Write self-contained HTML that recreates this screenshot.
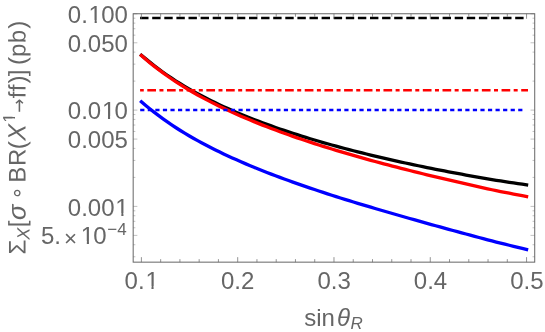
<!DOCTYPE html>
<html><head><meta charset="utf-8"><title>plot</title>
<style>html,body{margin:0;padding:0;background:#fff;}body{width:545px;height:332px;position:relative;overflow:hidden;}</style>
</head><body>
<svg width="545" height="332" viewBox="0 0 545 332" style="position:absolute;left:0;top:0">
<rect width="545" height="332" fill="#fff"/>
<g fill="none" stroke-width="3.3" stroke-linecap="square" stroke-linejoin="round">
<path d="M141.40,55.21 L145.73,58.87 L150.06,62.40 L154.38,65.79 L158.71,69.06 L163.04,72.21 L167.37,75.26 L171.69,78.19 L176.02,81.03 L180.35,83.76 L184.68,86.40 L189.00,88.94 L193.33,91.38 L197.66,93.75 L201.99,96.06 L206.31,98.29 L210.64,100.47 L214.97,102.59 L219.30,104.65 L223.63,106.66 L227.95,108.62 L232.28,110.54 L236.61,112.41 L240.94,114.23 L245.26,116.01 L249.59,117.75 L253.92,119.46 L258.25,121.13 L262.57,122.76 L266.90,124.36 L271.23,125.92 L275.56,127.45 L279.88,128.96 L284.21,130.43 L288.54,131.88 L292.87,133.30 L297.20,134.69 L301.52,136.06 L305.85,137.40 L310.18,138.72 L314.51,140.02 L318.83,141.29 L323.16,142.55 L327.49,143.78 L331.82,144.99 L336.14,146.18 L340.47,147.36 L344.80,148.51 L349.13,149.65 L353.45,150.77 L357.78,151.87 L362.11,152.95 L366.44,154.02 L370.76,155.08 L375.09,156.12 L379.42,157.14 L383.75,158.15 L388.08,159.15 L392.40,160.13 L396.73,161.10 L401.06,162.05 L405.39,163.00 L409.71,163.93 L414.04,164.85 L418.37,165.75 L422.70,166.65 L427.02,167.54 L431.35,168.41 L435.68,169.27 L440.01,170.12 L444.33,170.97 L448.66,171.80 L452.99,172.62 L457.32,173.44 L461.65,174.24 L465.97,175.04 L470.30,175.82 L474.63,176.60 L478.96,177.37 L483.28,178.13 L487.61,178.88 L491.94,179.62 L496.27,180.31 L500.59,180.99 L504.92,181.64 L509.25,182.28 L513.58,182.91 L517.90,183.56 L522.23,184.21 L526.56,184.88" stroke="#000"/>
<path d="M141.40,55.62 L145.73,59.33 L150.06,62.90 L154.38,66.35 L158.71,69.68 L163.04,72.90 L167.37,76.01 L171.69,79.01 L176.02,81.92 L180.35,84.72 L184.68,87.42 L189.00,90.02 L193.33,92.53 L197.66,94.96 L201.99,97.33 L206.31,99.63 L210.64,101.87 L214.97,104.06 L219.30,106.19 L223.63,108.28 L227.95,110.31 L232.28,112.30 L236.61,114.24 L240.94,116.15 L245.26,118.01 L249.59,119.84 L253.92,121.62 L258.25,123.38 L262.57,125.10 L266.90,126.79 L271.23,128.45 L275.56,130.08 L279.88,131.68 L284.21,133.25 L288.54,134.80 L292.87,136.32 L297.20,137.82 L301.52,139.29 L305.85,140.74 L310.18,142.17 L314.51,143.58 L318.83,144.97 L323.16,146.34 L327.49,147.69 L331.82,149.03 L336.14,150.34 L340.47,151.64 L344.80,152.92 L349.13,154.19 L353.45,155.44 L357.78,156.68 L362.11,157.90 L366.44,159.11 L370.76,160.30 L375.09,161.49 L379.42,162.66 L383.75,163.81 L388.08,164.96 L392.40,166.09 L396.73,167.22 L401.06,168.33 L405.39,169.43 L409.71,170.52 L414.04,171.61 L418.37,172.68 L422.70,173.75 L427.02,174.80 L431.35,175.85 L435.68,176.89 L440.01,177.92 L444.33,178.94 L448.66,179.96 L452.99,180.97 L457.32,181.97 L461.65,182.97 L465.97,183.95 L470.30,184.94 L474.63,185.91 L478.96,186.89 L483.28,187.85 L487.61,188.81 L491.94,189.75 L496.27,190.65 L500.59,191.51 L504.92,192.36 L509.25,193.19 L513.58,194.03 L517.90,194.88 L522.23,195.74 L526.56,196.64" stroke="#f00"/>
<path d="M141.40,101.76 L145.73,105.44 L150.06,108.98 L154.38,112.39 L158.71,115.68 L163.04,118.86 L167.37,121.93 L171.69,124.89 L176.02,127.75 L180.35,130.51 L184.68,133.18 L189.00,135.76 L193.33,138.25 L197.66,140.67 L201.99,143.02 L206.31,145.31 L210.64,147.54 L214.97,149.71 L219.30,151.84 L223.63,153.91 L227.95,155.94 L232.28,157.92 L236.61,159.86 L240.94,161.76 L245.26,163.63 L249.59,165.46 L253.92,167.25 L258.25,169.01 L262.57,170.74 L266.90,172.44 L271.23,174.11 L275.56,175.76 L279.88,177.38 L284.21,178.97 L288.54,180.55 L292.87,182.10 L297.20,183.63 L301.52,185.13 L305.85,186.62 L310.18,188.10 L314.51,189.55 L318.83,190.99 L323.16,192.41 L327.49,193.82 L331.82,195.21 L336.14,196.59 L340.47,197.96 L344.80,199.31 L349.13,200.65 L353.45,201.98 L357.78,203.30 L362.11,204.61 L366.44,205.91 L370.76,207.20 L375.09,208.49 L379.42,209.76 L383.75,211.03 L388.08,212.29 L392.40,213.54 L396.73,214.78 L401.06,216.02 L405.39,217.26 L409.71,218.48 L414.04,219.70 L418.37,220.92 L422.70,222.13 L427.02,223.34 L431.35,224.54 L435.68,225.73 L440.01,226.93 L444.33,228.12 L448.66,229.30 L452.99,230.48 L457.32,231.66 L461.65,232.83 L465.97,234.00 L470.30,235.16 L474.63,236.33 L478.96,237.48 L483.28,238.64 L487.61,239.79 L491.94,240.92 L496.27,242.03 L500.59,243.12 L504.92,244.19 L509.25,245.25 L513.58,246.31 L517.90,247.38 L522.23,248.46 L526.56,249.56" stroke="#00f"/>
</g>
<g fill="none" stroke-width="2.6" stroke-linecap="butt">
<path d="M140.1,18.05 H525" stroke="#000" stroke-dasharray="8.4 3.7"/>
<path d="M140.1,90.3 H528" stroke="#f00" stroke-dasharray="8.7 3.45 4.0 3.53" stroke-dashoffset="12.48"/>
<path d="M140.2,109.96 H524" stroke="#00f" stroke-dasharray="4.2 3.36"/>
</g>
<g fill="none" stroke="#666666" stroke-width="1">
<rect x="133.17" y="13.75" width="401.55000000000007" height="248.39999999999998"/>
<path d="M141.40,262.15 v-5 M141.40,13.75 v5 M160.66,262.15 v-3 M160.66,13.75 v3 M179.92,262.15 v-3 M179.92,13.75 v3 M199.17,262.15 v-3 M199.17,13.75 v3 M218.43,262.15 v-3 M218.43,13.75 v3 M237.69,262.15 v-5 M237.69,13.75 v5 M256.95,262.15 v-3 M256.95,13.75 v3 M276.21,262.15 v-3 M276.21,13.75 v3 M295.46,262.15 v-3 M295.46,13.75 v3 M314.72,262.15 v-3 M314.72,13.75 v3 M333.98,262.15 v-5 M333.98,13.75 v5 M353.24,262.15 v-3 M353.24,13.75 v3 M372.50,262.15 v-3 M372.50,13.75 v3 M391.75,262.15 v-3 M391.75,13.75 v3 M411.01,262.15 v-3 M411.01,13.75 v3 M430.27,262.15 v-5 M430.27,13.75 v5 M449.53,262.15 v-3 M449.53,13.75 v3 M468.79,262.15 v-3 M468.79,13.75 v3 M488.04,262.15 v-3 M488.04,13.75 v3 M507.30,262.15 v-3 M507.30,13.75 v3 M526.56,262.15 v-5 M526.56,13.75 v5" stroke-width="0.7"/>
<path d="M133.17,13.80 h4.2 M534.72,13.80 h-4.2 M133.17,110.10 h4.2 M534.72,110.10 h-4.2 M133.17,81.11 h2.2 M534.72,81.11 h-2.2 M133.17,64.15 h2.2 M534.72,64.15 h-2.2 M133.17,52.12 h2.2 M534.72,52.12 h-2.2 M133.17,42.79 h4.2 M534.72,42.79 h-4.2 M133.17,35.16 h2.2 M534.72,35.16 h-2.2 M133.17,28.72 h2.2 M534.72,28.72 h-2.2 M133.17,23.13 h2.2 M534.72,23.13 h-2.2 M133.17,18.21 h2.2 M534.72,18.21 h-2.2 M133.17,206.40 h4.2 M534.72,206.40 h-4.2 M133.17,177.41 h2.2 M534.72,177.41 h-2.2 M133.17,160.45 h2.2 M534.72,160.45 h-2.2 M133.17,148.42 h2.2 M534.72,148.42 h-2.2 M133.17,139.09 h4.2 M534.72,139.09 h-4.2 M133.17,131.46 h2.2 M534.72,131.46 h-2.2 M133.17,125.02 h2.2 M534.72,125.02 h-2.2 M133.17,119.43 h2.2 M534.72,119.43 h-2.2 M133.17,114.51 h2.2 M534.72,114.51 h-2.2 M133.17,256.75 h2.2 M534.72,256.75 h-2.2 M133.17,244.72 h2.2 M534.72,244.72 h-2.2 M133.17,235.39 h4.2 M534.72,235.39 h-4.2 M133.17,227.76 h2.2 M534.72,227.76 h-2.2 M133.17,221.32 h2.2 M534.72,221.32 h-2.2 M133.17,215.73 h2.2 M534.72,215.73 h-2.2 M133.17,210.81 h2.2 M534.72,210.81 h-2.2" stroke-width="0.4"/>
</g>
<g font-family="'Liberation Sans', sans-serif" font-size="24" fill="#666666">
<text x="124.62 137.97 145.43" y="289.40">0.1</text>
<text x="221.01 234.36 241.02" y="289.40">0.2</text>
<text x="317.40 330.75 337.41" y="289.40">0.3</text>
<text x="413.79 427.14 433.80" y="289.40">0.4</text>
<text x="510.18 523.53 530.19" y="289.40">0.5</text>
<text x="67.79 81.14 88.61 101.15 114.50" y="23.15">0.100</text>
<text x="67.79 81.14 87.81 101.15 114.50" y="52.14">0.050</text>
<text x="67.79 81.14 87.81 101.95 114.50" y="119.45">0.010</text>
<text x="67.79 81.14 87.81 101.15 114.50" y="148.44">0.005</text>
<text x="67.79 81.14 87.81 101.15 115.30" y="215.75">0.001</text>
<text y="244.2"><tspan x="41.0">5.</tspan><tspan x="64.0" dy="1.35" font-size="22.4">×</tspan><tspan x="80.8 93.35" dy="-1.35">10</tspan><tspan x="107.3" dy="-9.15" font-size="17">−4</tspan></text>
<text x="304.2" y="326">sin<tspan font-style="italic" dx="2">θ</tspan><tspan font-style="italic" font-size="17" dy="3.1" dx="0.6">R</tspan></text>
<text transform="translate(25.6,0) rotate(-89.97)" xml:space="preserve"><tspan x="-254.43" y="0.00">Σ</tspan><tspan x="-239.79" y="3.90" font-size="17.8" font-style="italic">X</tspan><tspan x="-227.20" y="0.00">[</tspan><tspan x="-219.94" y="0.00" font-size="25.5" font-style="italic">σ</tspan><tspan x="-205.94" y="0.00"> </tspan><tspan x="-199.80" y="-1.50" font-size="21.5" font-family="'DejaVu Sans', sans-serif">∘</tspan><tspan x="-185.80 -182.68 -166.14 -149.34" y="0.00"> BR(</tspan><tspan x="-140.79" y="0.00" font-size="25" font-style="italic">X</tspan><tspan x="-122.85" y="-10.50" font-size="17.3">1</tspan><tspan x="-112.85" y="-0.27" font-size="18.6" font-family="'DejaVu Sans Condensed', 'DejaVu Sans', sans-serif">→</tspan><tspan x="-98.22 -91.22 -83.50 -76.32 -70.32 -65.07 -57.14 -43.34 -28.87" y="0.00">ff)] (pb)</tspan></text>
</g>
<g fill="#fff"><rect x="146.56" y="286.20" width="4.90" height="3.50"/><rect x="153.59" y="286.20" width="4.71" height="3.50"/><rect x="89.73" y="20.20" width="4.90" height="3.50"/><rect x="96.77" y="20.20" width="4.71" height="3.50"/><rect x="103.08" y="116.20" width="4.90" height="3.50"/><rect x="110.11" y="116.20" width="4.71" height="3.50"/><rect x="116.43" y="213.20" width="4.90" height="3.50"/><rect x="123.46" y="213.20" width="4.71" height="3.50"/><rect x="81.92" y="241.20" width="4.90" height="3.50"/><rect x="88.96" y="241.20" width="4.71" height="3.50"/><g transform="translate(25.6,0) rotate(-90)"><rect x="-122.24" y="-13.10" width="3.73" height="3.20"/><rect x="-116.97" y="-13.10" width="3.59" height="3.20"/></g></g>
</svg>
</body></html>
